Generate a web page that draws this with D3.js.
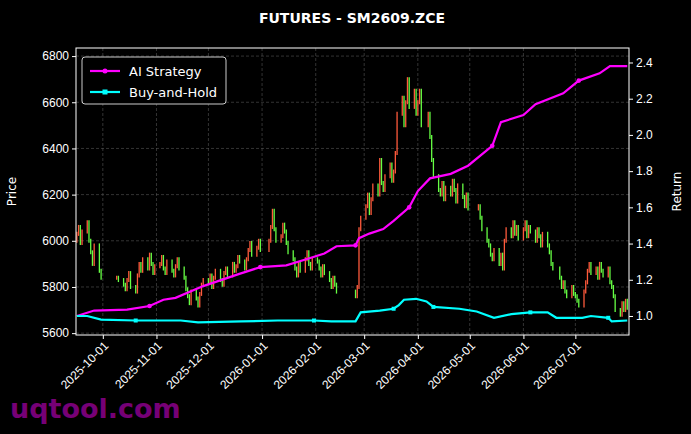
<!DOCTYPE html>
<html><head><meta charset="utf-8">
<script src="https://cdn.jsdelivr.net/npm/d3@7"></script>
<style>body{margin:0;background:#000}svg{font-family:"DejaVu Sans",sans-serif}</style>
</head><body><svg id="chart" width="691" height="434"></svg>
<script>
// trading-day closes, month by month
var closeSep = [6030,6060,5990,6040,6080,6000,5950,5900,5980,5870,5840];
var closeOct = [5840,5830,5810,5790,5830,5860,5800,5780,5850,5900,5870,5920,5880,5940,5900,5860,5890];
var closeNov = [5900,5930,5880,5860,5910,5870,5850,5890,5920,5880,5840,5790,5760,5730,5780,5750,5720,5770,5810,5830];
var closeDec = [5820,5850,5800,5840,5870,5830,5810,5860,5880,5850,5900,5870,5890,5930,5910,5880,5920,5960,5990,5940,5970,6000,5960];
var closeJan = [6000,6060,6130,6050,6000,6020,6070,6040,5990,5950,5920,5880,5850,5900,5870,5920,5950,5900,5880,5920];
var closeFeb = [5910,5880,5850,5890,5860,5830,5800,5840,5810,5780,5760,5800,6050,6100];
var closeMar = [6150,6200,6120,6180,6240,6200,6350,6250,6220,6280,6330,6260,6300,6380,6550,6620,6500,6600,6700,6580,6650,6550];
var closeApr = [6600,6650,6500,6550,6450,6350,6280,6220,6200,6250,6180,6230,6200,6260,6220,6170,6240,6190,6150,6200,6140];
var closeMay = [6150,6100,6050,6000,5980,5940,5920,5960,5900,5940,5880,6000,6050,6020,6080,6030,6060,6010];
var closeJun = [6050,6080,6020,6060,6040,6000,6050,6020,5980,6030,5980,5950,5900,5880,5840,5800,5820,5780,5760,5800,5770];
var closeJul = [5760,5740,5720,5780,5820,5870,5900,5860,5880,5840,5900,5870,5850,5880,5820,5800,5760,5700,5680,5730,5700,5740,5710];
var holidays = ["2025-10-01","2025-10-02","2025-10-03","2025-10-06","2025-10-07","2025-10-08","2026-01-01","2026-01-02",
  "2026-02-16","2026-02-17","2026-02-18","2026-02-19","2026-02-20","2026-02-23","2026-04-06","2026-05-01","2026-05-04","2026-05-05","2026-06-19"];

var stratDates = ["2025-09-16","2025-09-26","2025-10-15","2025-10-28","2025-11-05","2025-11-12","2025-11-28","2025-12-18","2025-12-31","2026-01-15","2026-01-27","2026-02-06","2026-02-13","2026-02-24","2026-02-26","2026-03-04","2026-03-12","2026-03-18","2026-03-27","2026-04-01","2026-04-08","2026-04-20","2026-04-30","2026-05-14","2026-05-19","2026-06-01","2026-06-08","2026-06-24","2026-07-03","2026-07-15","2026-07-21","2026-07-31"];
var stratVals = [1.00,1.03,1.035,1.055,1.09,1.10,1.165,1.23,1.27,1.28,1.315,1.345,1.385,1.39,1.43,1.455,1.48,1.525,1.60,1.69,1.76,1.785,1.83,1.94,2.07,2.11,2.17,2.23,2.30,2.34,2.38,2.38];
var bhDates = ["2025-09-16","2025-09-22","2025-09-30","2025-10-20","2025-11-15","2025-11-25","2025-12-20","2026-01-10","2026-01-31","2026-02-10","2026-02-24","2026-02-27","2026-03-10","2026-03-18","2026-03-21","2026-03-24","2026-03-31","2026-04-06","2026-04-10","2026-04-25","2026-05-05","2026-05-15","2026-05-25","2026-06-05","2026-06-15","2026-06-20","2026-07-05","2026-07-10","2026-07-20","2026-07-22","2026-07-31"];
var bhVals = [1.0,1.0,0.98,0.975,0.975,0.965,0.97,0.975,0.975,0.97,0.97,1.02,1.03,1.04,1.06,1.09,1.095,1.08,1.05,1.04,1.025,0.99,1.01,1.02,1.02,0.99,0.99,1.0,0.99,0.97,0.975];

var parse = d3.timeParse("%Y-%m-%d");
var closes = [].concat(closeSep,closeOct,closeNov,closeDec,closeJan,closeFeb,closeMar,closeApr,closeMay,closeJun,closeJul);
var days = d3.timeDay.range(parse("2025-09-16"), parse("2026-08-01"))
  .filter(function(d){ var w = d.getDay(); return w>0 && w<6 && holidays.indexOf(d3.timeFormat("%Y-%m-%d")(d))<0; });
var candles = closes.map(function(c,i){ return {date: days[i], open: i ? closes[i-1] : c-30, close: c}; });

var margin = {left:76, right:62, top:48, bottom:99};
var width = 691 - margin.left - margin.right, height = 434 - margin.top - margin.bottom;
var svg = d3.select("#chart");
svg.append("rect").attr("width",691).attr("height",434).attr("fill","#000");
var g = svg.append("g").attr("transform","translate("+margin.left+","+margin.top+")");

var x = d3.scaleTime().domain([new Date(2025,8,15,12), new Date(2026,7,1)]).range([0,width]);
var yP = d3.scaleLinear().domain([5592,6835]).range([height,0]);
var yR = d3.scaleLinear().domain([0.895,2.48]).range([height,0]);

var monthTicks = d3.timeMonth.range(new Date(2025,9,1), new Date(2026,7,1));
// grid
g.selectAll(".gx").data(monthTicks).enter().append("line")
  .attr("x1",x).attr("x2",x).attr("y1",0).attr("y2",height)
  .attr("stroke","#555").attr("stroke-width",0.6).attr("stroke-dasharray","3,2");
g.selectAll(".gy").data(d3.range(5600,6801,200)).enter().append("line")
  .attr("x1",0).attr("x2",width).attr("y1",yP).attr("y2",yP)
  .attr("stroke","#555").attr("stroke-width",0.6).attr("stroke-dasharray","3,2");

// candles
g.selectAll(".c").data(candles).enter().append("line")
  .attr("x1",function(d){return x(d.date);}).attr("x2",function(d){return x(d.date);})
  .attr("y1",function(d){return yP(Math.max(d.open,d.close))-2;})
  .attr("y2",function(d){return yP(Math.min(d.open,d.close))+2;})
  .attr("stroke",function(d){return d.close>=d.open ? "#ff5a3c" : "#66ff44";})
  .attr("stroke-width",1.3);

function series(dates, vals, color, shape) {
  var pts = dates.map(function(d,i){ return {date: parse(d), v: vals[i]}; });
  g.append("path").datum(pts)
    .attr("d", d3.line().x(function(d){return x(d.date);}).y(function(d){return yR(d.v);}))
    .attr("fill","none").attr("stroke",color).attr("stroke-width",2.2);
  g.selectAll(null).data(pts.filter(function(d,i){return i%5==3;})).enter().append(shape)
    .attr(shape=="circle"?"cx":"x", function(d){return shape=="circle"?x(d.date):x(d.date)-2;})
    .attr(shape=="circle"?"cy":"y", function(d){return shape=="circle"?yR(d.v):yR(d.v)-2;})
    .attr("r",2.3).attr("width",4).attr("height",4).attr("fill",color);
}
series(stratDates, stratVals, "#ff00ff", "circle");
series(bhDates, bhVals, "#00ffff", "rect");

// frame
g.append("rect").attr("width",width).attr("height",height).attr("fill","none").attr("stroke","#fff").attr("stroke-width",1);

function styleAxis(sel){ sel.selectAll("path").remove(); sel.selectAll("line").attr("stroke","#fff");
  sel.selectAll("text").attr("fill","#fff").style("font-size","12px"); }
g.append("g").call(d3.axisLeft(yP).tickValues(d3.range(5600,6801,200)).tickFormat(d3.format("d")).tickSize(4)).call(styleAxis);
g.append("g").attr("transform","translate("+width+",0)")
  .call(d3.axisRight(yR).tickValues([1.0,1.2,1.4,1.6,1.8,2.0,2.2,2.4]).tickFormat(d3.format(".1f")).tickSize(4)).call(styleAxis);
var xa = g.append("g").attr("transform","translate(0,"+height+")")
  .call(d3.axisBottom(x).tickValues(monthTicks).tickFormat(d3.timeFormat("%Y-%m-%d")).tickSize(4)).call(styleAxis);
xa.selectAll("text").attr("text-anchor","end").attr("dy","0.35em").attr("dx",0).attr("y",6)
  .attr("transform","rotate(-45) translate(-4,2)");

g.append("text").attr("transform","rotate(-90)").attr("x",-height/2).attr("y",-60)
  .attr("text-anchor","middle").attr("fill","#fff").style("font-size","12px").text("Price");
g.append("text").attr("transform","rotate(-90)").attr("x",-height/2).attr("y",width+52)
  .attr("text-anchor","middle").attr("fill","#fff").style("font-size","12px").text("Return");

svg.append("text").attr("x",352).attr("y",23).attr("text-anchor","middle").attr("fill","#fff")
  .style("font-size","14px").style("font-weight","bold").text("FUTURES - SM2609.ZCE");

// legend
var legend = g.append("g").attr("transform","translate(6,9)");
legend.append("rect").attr("width",144).attr("height",47).attr("rx",3).attr("fill","#000").attr("stroke","#ccc");
[["AI Strategy","#ff00ff","circle"],["Buy-and-Hold","#00ffff","rect"]].forEach(function(s,i){
  var row = legend.append("g").attr("transform","translate(8,"+(14+i*21)+")");
  row.append("line").attr("x1",0).attr("x2",30).attr("stroke",s[1]).attr("stroke-width",2.2);
  if (s[2]=="circle") row.append("circle").attr("cx",15).attr("r",2.5).attr("fill",s[1]);
  else row.append("rect").attr("x",12.5).attr("y",-2.5).attr("width",5).attr("height",5).attr("fill",s[1]);
  row.append("text").attr("x",39).attr("y",5).attr("fill","#fff").style("font-size","13px").text(s[0]);
});

svg.append("text").attr("x",10).attr("y",418).attr("fill","#8b008b").attr("opacity",0.85)
  .style("font-size","27px").style("font-weight","bold").text("uqtool.com");
</script></body></html>
